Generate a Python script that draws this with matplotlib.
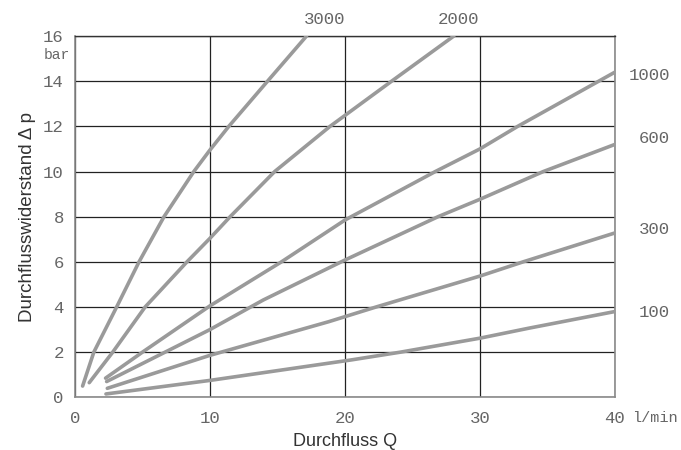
import matplotlib
matplotlib.use('Agg')
from matplotlib import pyplot as plt

# flow Q [l/min] vs pressure drop [bar], one curve per viscosity
q_3000 = [0.57, 1.4, 3.09, 4.75, 6.6, 8.81, 10.0, 11.4, 14.27, 17.16]
p_3000 = [0.5, 2.0, 4.0, 6.0, 8.0, 10.0, 10.95, 12.0, 14.0, 16.0]

q_2000 = [1.06, 2.8, 5.2, 8.3, 10.0, 11.5, 14.8, 18.9, 23.46, 28.07]
p_2000 = [0.65, 2.0, 4.0, 6.0, 7.04, 8.0, 10.0, 12.0, 14.0, 16.0]

q_1000 = [2.27, 5.0, 10.0, 15.3, 20.0, 26.7, 30.0, 32.8, 40.0]
p_1000 = [0.85, 2.0, 4.05, 6.0, 7.85, 10.0, 11.0, 12.0, 14.4]

q_600 = [2.35, 10.0, 13.95, 20.0, 26.9, 30.0, 34.7, 40.0]
p_600 = [0.70, 3.0, 4.31, 6.08, 8.0, 8.77, 10.0, 11.2]

q_300 = [2.4, 10.0, 18.8, 22.3, 30.0, 33.2, 40.0]
p_300 = [0.4, 1.86, 3.35, 4.0, 5.37, 6.0, 7.28]

q_100 = [2.3, 10.0, 20.5, 24.1, 30.0, 33.6, 40.0]
p_100 = [0.15, 0.75, 1.66, 2.0, 2.62, 3.06, 3.8]

curves = [(q_3000, p_3000), (q_2000, p_2000), (q_1000, p_1000),
          (q_600, p_600), (q_300, p_300), (q_100, p_100)]

x_ticks = [0, 10, 20, 30, 40]
y_ticks = [0, 2, 4, 6, 8, 10, 12, 14, 16]

# curve labels
top_labels = [('3000', 18.5, 16.75), ('2000', 28.4, 16.75)]
side_labels = [('1000', 14.27), ('600', 11.44), ('300', 7.41), ('100', 3.74)]

mono = 'Liberation Mono'
sans = 'Liberation Sans'
txt_col = '#666666'

fig = plt.figure(figsize=(6.81, 4.5), dpi=100)
ax = fig.add_axes([0.110, 0.117, 0.793, 0.803])

for q, p in curves:
    ax.plot(q, p, color='#9a9a9a', lw=2.6, solid_capstyle='round',
            solid_joinstyle='round', zorder=3)

ax.set_xlim(0, 40)
ax.set_ylim(0, 16)
ax.set_xticks(x_ticks)
ax.set_yticks(y_ticks)
ax.tick_params(axis='both', length=0, labelsize=12.5, labelcolor=txt_col)
ax.tick_params(axis='x', pad=10)
ax.tick_params(axis='y', pad=8)
for lab in ax.get_xticklabels() + ax.get_yticklabels():
    lab.set_fontfamily(mono)

ax.grid(True, color='#222222', lw=0.9, zorder=1)
for side in ['left', 'bottom', 'right']:
    ax.spines[side].set_color('#8a8a8a')
    ax.spines[side].set_linewidth(1.2)
ax.spines['top'].set_color('#333333')
ax.spines['top'].set_linewidth(1.0)

for t, x, y in top_labels:
    ax.text(x, y, t, family=mono, fontsize=12.5, color=txt_col,
            ha='center', va='center', clip_on=False)
for t, y in side_labels:
    ax.text(44.1, y, t, family=mono, fontsize=12.5, color=txt_col,
            ha='right', va='center', clip_on=False)

ax.text(-0.4, 15.15, 'bar', family=mono, fontsize=10.5, color=txt_col,
        ha='right', va='center', clip_on=False)
ax.text(41.3, -0.92, 'l/min', family=mono, fontsize=11, color=txt_col,
        ha='left', va='center', clip_on=False)

ax.set_xlabel('Durchfluss Q', family=sans, fontsize=13, color='#333333', labelpad=5)
ax.set_ylabel('Durchflusswiderstand Δ p', family=sans, fontsize=13.5,
              color='#333333', labelpad=5)

fig.savefig('out.png', dpi=100)
